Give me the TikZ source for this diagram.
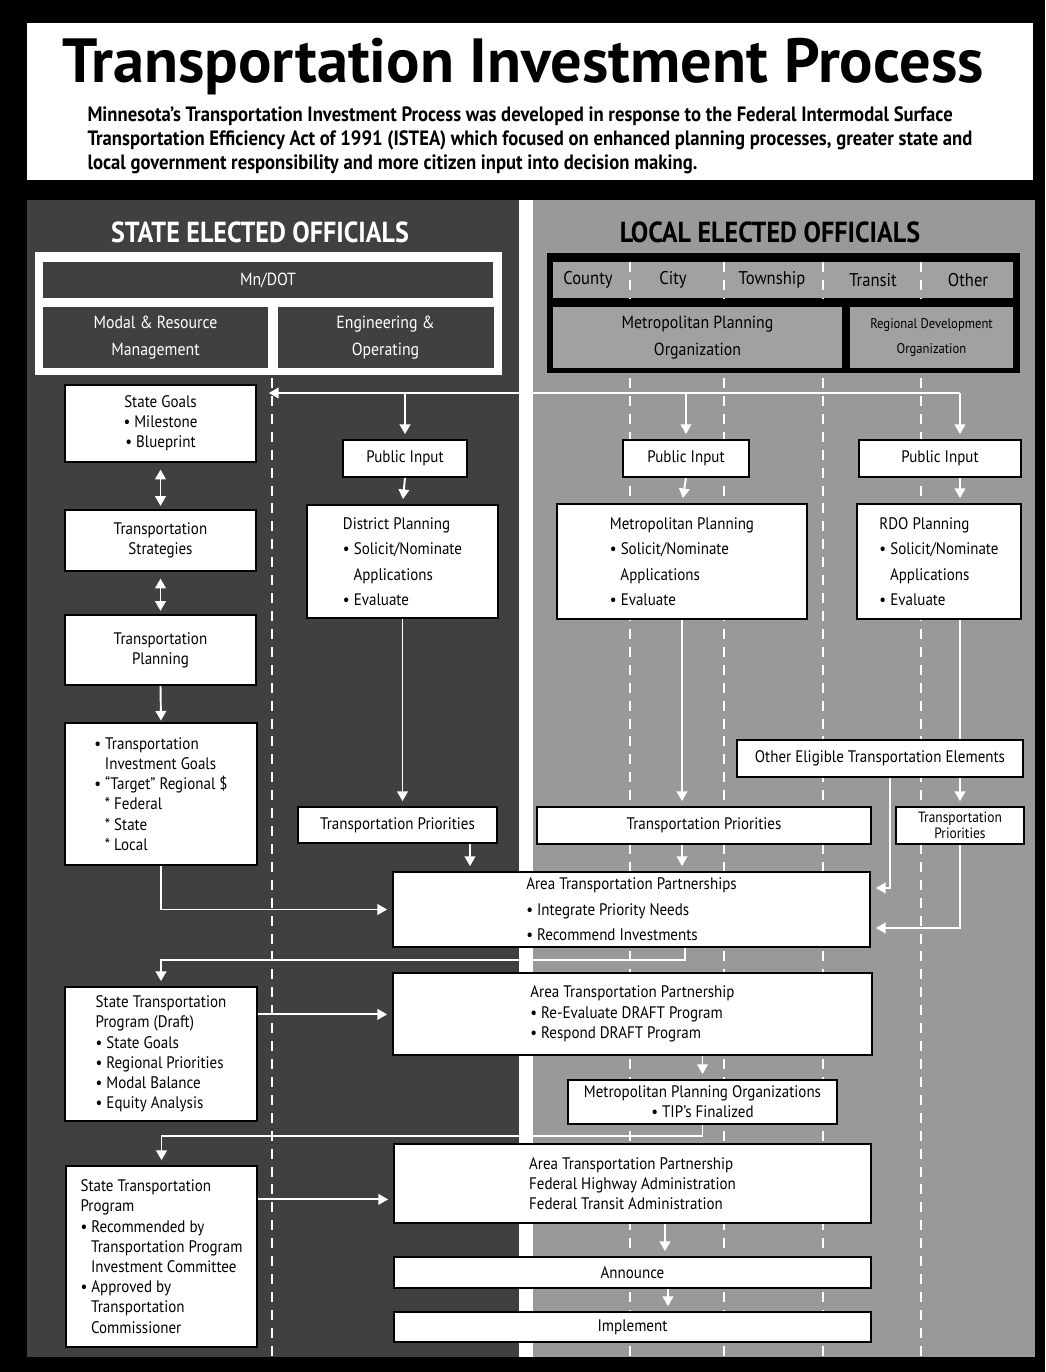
\documentclass[tikz,border=0pt]{standalone}
\usepackage{fontspec}
\setmainfont{PT Sans}[FakeStretch=0.9]
\newfontfamily\headfont{PT Sans}
\usetikzlibrary{calc, arrows.meta, positioning}
\definecolor{statebg}{gray}{0.25}
\definecolor{localbg}{gray}{0.6}
\definecolor{localhd}{gray}{0.63}
\pgfdeclarelayer{panels}
\pgfdeclarelayer{lines}
\pgfsetlayers{panels,lines,main}
\tikzset{
  boxsize/.style 2 args={
    minimum width=#1*0.02cm, minimum height=#2*0.02cm
  },
  stepbox/.style={
    rectangle, draw=black, line width=0.7pt, fill=white, inner sep=0pt,
    align=center, font=\fontsize{9.5}{11.5}\selectfont
  },
  darkbox/.style={
    rectangle, fill=statebg, text=white, inner sep=0pt, align=center,
    font=\fontsize{10}{15}\selectfont
  },
  localbox/.style={
    rectangle, fill=localhd, text=black, inner sep=0pt, align=center,
    font=\fontsize{10}{15}\selectfont
  },
  unitlabel/.style={
    inner sep=0pt, font=\fontsize{10.5}{12}\selectfont
  },
  arrow/.style={
    draw=white, line width=1.1pt, -{Triangle[width=6pt,length=5.5pt]},
    shorten >=3pt
  },
  twoway/.style={
    draw=white, line width=1.1pt,
    {Triangle[width=6pt,length=5.5pt]}-{Triangle[width=6pt,length=5.5pt]},
    shorten >=2pt, shorten <=4pt
  },
  lane/.style={
    draw=white, line width=1.1pt, dash pattern=on 5.7pt off 4.5pt
  }
}

\begin{document}
\begin{tikzpicture}[x=0.02cm, y=-0.02cm]
\useasboundingbox (0,0) rectangle (1045,1372);

\begin{pgfonlayer}{panels}
\fill[black] (0,0) rectangle (1045,1372);
\fill[white] (27,23) rectangle (1033,180);
\fill[statebg] (27,200) rectangle (519,1357);
\fill[white] (519,200) rectangle (533,1357);
\fill[localbg] (533,200) rectangle (1035,1357);
\fill[white] (35,252) rectangle (502,375);
\fill[black] (547,253) rectangle (1020,373);
\fill[localhd] (553,262) rectangle (1013,298);
\draw[lane, line width=1.6pt] (272,378) -- (272,1357);
\foreach \x in {630,724,823,921} {
  \draw[lane] (\x,262) -- (\x,298);
  \draw[lane] (\x,378) -- (\x,1357);
}
\end{pgfonlayer}

\node[anchor=base, font=\headfont\fontsize{35.5}{40}\selectfont\bfseries] (title) at (523,83)
  {Transportation Investment Process};
\node[align=left, font=\fontsize{11.8}{13.6}\selectfont\bfseries] (intro) at (530,140)
  {Minnesota’s Transportation Investment Process was developed in response to the Federal Intermodal Surface\\
   Transportation Efficiency Act of 1991 (ISTEA) which focused on enhanced planning processes, greater state and\\
   local government responsibility and more citizen input into decision making.};

\node[text=white, font=\fontsize{16.5}{18}\selectfont\bfseries] (stateHead) at (260,232) {STATE ELECTED OFFICIALS};
\node[text=black, font=\fontsize{16.5}{18}\selectfont\bfseries] (localHead) at (770,232) {LOCAL ELECTED OFFICIALS};

\node[darkbox, boxsize={450}{36}] (mndot) at (268,280) {Mn/DOT};
\node[darkbox, boxsize={225}{61}] (modal) at (155.5,337.5) {Modal \& Resource\\Management};
\node[darkbox, boxsize={216}{61}] (engop) at (385.5,337.5) {Engineering \&\\Operating};

\foreach \name/\x in {County/588, City/673, Township/772, Transit/873, Other/968}
  \node[unitlabel] (unit-\name) at (\x,280) {\name};
\node[localbox, boxsize={289}{61}] (mpoHead) at (697.5,337.5) {Metropolitan Planning\\Organization};
\node[localbox, boxsize={163}{61}, font=\fontsize{8}{14}\selectfont] (rdoHead) at (931.5,337.5)
  {Regional Development\\Organization};

\node[stepbox, boxsize={191}{77}] (goals) at (160.5,423.5) {State Goals\\• Milestone\\• Blueprint};
\node[stepbox, boxsize={191}{61}] (strat) at (160.5,540.5) {Transportation\\Strategies};
\node[stepbox, boxsize={191}{70}] (plan) at (160.5,650) {Transportation\\Planning};
\node[stepbox, boxsize={192}{142}, align=left] (invest) at (161,794)
  {• Transportation\\\hspace*{6pt}Investment Goals\\• “Target” Regional \$\\
   \hspace*{6pt}* Federal\\\hspace*{6pt}* State\\\hspace*{6pt}* Local};
\node[stepbox, boxsize={192}{134}, align=left] (draft) at (161,1054)
  {State Transportation\\Program (Draft)\\• State Goals\\• Regional Priorities\\
   • Modal Balance\\• Equity Analysis};
\node[stepbox, boxsize={191}{181}, align=left] (stp) at (161.5,1256.5)
  {State Transportation\\Program\\• Recommended by\\\hspace*{6pt}Transportation Program\\
   \hspace*{6pt}Investment Committee\\• Approved by\\\hspace*{6pt}Transportation\\
   \hspace*{6pt}Commissioner};

\node[stepbox, boxsize={124}{37}] (dpi) at (405,458.5) {Public Input};
\node[stepbox, boxsize={191}{113}, align=left, font=\fontsize{9.5}{14.5}\selectfont] (dplan) at (402.5,561.5)
  {District Planning\\• Solicit/Nominate\\\hspace*{6pt}Applications\\• Evaluate};
\node[stepbox, boxsize={199}{36}] (dprio) at (397.5,825) {Transportation Priorities};

\node[stepbox, boxsize={126}{37}] (mpi) at (686,458.5) {Public Input};
\node[stepbox, boxsize={250}{115}, align=left, font=\fontsize{9.5}{14.5}\selectfont] (mplan) at (682,561.5)
  {Metropolitan Planning\\• Solicit/Nominate\\\hspace*{6pt}Applications\\• Evaluate};
\node[stepbox, boxsize={334}{37}] (mprio) at (704,825.5) {Transportation Priorities};

\node[stepbox, boxsize={162}{37}] (rpi) at (940,458.5) {Public Input};
\node[stepbox, boxsize={164}{115}, align=left, font=\fontsize{9.5}{14.5}\selectfont] (rplan) at (939,561.5)
  {RDO Planning\\• Solicit/Nominate\\\hspace*{6pt}Applications\\• Evaluate};
\node[stepbox, boxsize={286}{37}] (other) at (880,758.5) {Other Eligible Transportation Elements};
\node[stepbox, boxsize={128}{37}, font=\fontsize{8.5}{9}\selectfont] (rprio) at (960,825.5)
  {Transportation\\Priorities};

\node[stepbox, boxsize={477}{75}, align=left, font=\fontsize{9.5}{14.5}\selectfont] (atp1) at (631.5,909.5)
  {Area Transportation Partnerships\\• Integrate Priority Needs\\• Recommend Investments};
\node[stepbox, boxsize={479}{82}, align=left] (atp2) at (632.5,1014)
  {Area Transportation Partnership\\• Re-Evaluate DRAFT Program\\• Respond DRAFT Program};
\node[stepbox, boxsize={269}{44}] (mpo) at (702.5,1102)
  {Metropolitan Planning Organizations\\• TIP’s Finalized};
\node[stepbox, boxsize={477}{79}, align=left] (atp3) at (632.5,1183.5)
  {Area Transportation Partnership\\Federal Highway Administration\\Federal Transit Administration};
\node[stepbox, boxsize={477}{31}] (announce) at (632.5,1272.5) {Announce};
\node[stepbox, boxsize={477}{30}] (implement) at (632.5,1327) {Implement};

\begin{pgfonlayer}{lines}
\coordinate (feedR) at (960,393);
\draw[arrow, shorten >=7pt] (feedR) -- (feedR -| goals.east);
\draw[arrow] (dpi.north |- feedR) -- (dpi.north);
\draw[arrow] (mpi.north |- feedR) -- (mpi.north);
\draw[arrow] (feedR) -- (feedR |- rpi.north);
\draw[twoway] (goals.south) -- (strat.north);
\draw[twoway] (strat.south) -- (plan.north);
\draw[arrow, shorten >=1pt] (plan.south) -- (invest.north);
\draw[arrow] (invest.south) |- (atp1.west);
\draw[arrow] (dpi.south) -- (dplan.north);
\draw[arrow] (dplan.south) -- (dplan.south |- dprio.north);
\coordinate (dprioOut) at ($(dprio.south)+(72.5,0)$);
\draw[arrow] (dprioOut) -- (dprioOut |- atp1.north);
\draw[arrow] (mpi.south) -- (mplan.north);
\draw[arrow] (mplan.south) -- (mplan.south |- mprio.north);
\draw[arrow] (mplan.south |- mprio.south) -- (mplan.south |- atp1.north);
\draw[arrow] (feedR |- rpi.south) -- (feedR |- rplan.north);
\draw[arrow] (feedR |- rplan.south) -- (feedR |- rprio.north);
\coordinate (otherIn) at ($(atp1.east)+(0,-21.5)$);
\coordinate (rprioIn) at ($(atp1.east)+(0,18.5)$);
\draw[arrow] ($(other.south)+(10,0)$) |- (otherIn);
\draw[arrow] (rprio.south) |- (rprioIn);
\coordinate (atpOut) at ($(atp1.south)+(53.5,0)$);
\draw[arrow] (atpOut) -- ++(0,12) -| (draft.north);
\coordinate (draftOut) at ($(draft.north east)+(0,28)$);
\draw[arrow] (draftOut) -- (draftOut -| atp2.west);
\draw[arrow] (mpo.north |- atp2.south) -- (mpo.north);
\draw[arrow] (mpo.south) -- ++(0,11) -| (stp.north);
\coordinate (stpOut) at ($(stp.north east)+(0,34)$);
\draw[arrow] (stpOut) -- (stpOut -| atp3.west);
\coordinate (atpDown) at ($(atp3.south)+(32.5,0)$);
\draw[arrow] (atpDown) -- (atpDown |- announce.north);
\coordinate (announceDown) at ($(announce.south)+(35.5,0)$);
\draw[arrow] (announceDown) -- (announceDown |- implement.north);
\end{pgfonlayer}
\end{tikzpicture}
\end{document}
